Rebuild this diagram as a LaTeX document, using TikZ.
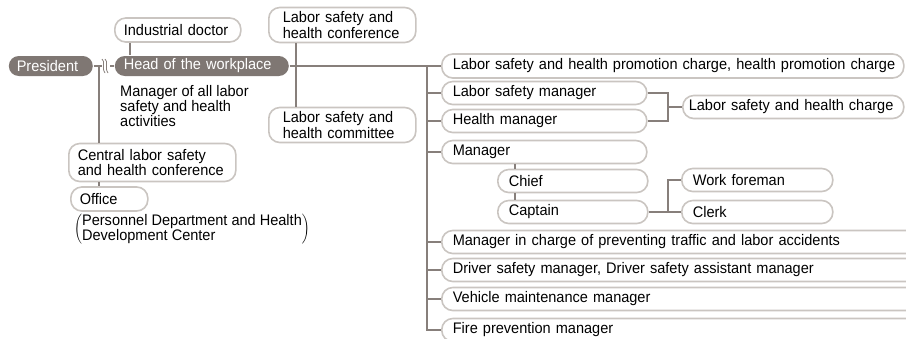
\documentclass[tikz,border=0pt]{standalone}
\usepackage{fontspec}
\setmainfont{Liberation Sans}[FakeStretch=0.95]
\usetikzlibrary{positioning, calc}
\definecolor{darkbox}{HTML}{7F7773}
\definecolor{boxline}{HTML}{CAC5C1}
\definecolor{linkgray}{HTML}{877F7B}
\newcommand{\orgfont}{\fontsize{15.3}{13.3}\selectfont}

\begin{document}
\begin{tikzpicture}[
    x=1pt, y=-1pt,
    box/.style={draw=boxline, line width=1.6pt, rounded corners=11pt, fill=white, minimum height=23pt, inner xsep=11pt, inner ysep=0pt, anchor=west, align=left, font=\orgfont},
    tallbox/.style={box, minimum height=35pt, inner xsep=14pt},
    dark/.style={box, draw=none, fill=darkbox, text=white, minimum height=20pt, rounded corners=10pt},
    conn/.style={draw=linkgray, line width=1.6pt}
]
    \clip (0,0) rectangle (906,338);
    \fill[white] (0,0) rectangle (906,338);

    % Nodes (left side)
    \node[dark, inner xsep=8pt, text width=68pt] (pres) at (8,66) {President};
    \node[dark, inner xsep=9pt, text width=156pt] (head) at (114,66) {Head of the workplace};
    \node[box, minimum height=24pt, inner xsep=9pt, text width=108pt] (idoc) at (114,30) {Industrial doctor};
    \node[font=\orgfont, align=left, anchor=north west, inner sep=0pt] (duty) at (120,85) {Manager of all labor\\safety and health\\activities};
    \node[tallbox, text width=119pt] (lshconf) at (268,25) {Labor safety and\\health conference};
    \node[tallbox, text width=119pt] (lshcom) at (268,125) {Labor safety and\\health committee};
    \node[box, minimum height=38pt, inner xsep=9pt, text width=149pt] (central) at (68,162.5) {Central labor safety\\and health conference};
    \node[box, minimum height=24pt, inner xsep=9pt, text width=59pt] (office) at (70,199) {Office};
    \node[font=\orgfont, anchor=west, inner sep=0pt] (ofnote) at (74,229) {$\left(\vcenter{\hbox{\begin{tabular}{@{}l@{}}Personnel Department and Health\\Development Center\end{tabular}}}\right)$};

    % Nodes (right side)
    \node[box, minimum height=24pt, text width=440pt] (lshp) at (441,66) {\mbox{Labor safety and health promotion charge, health promotion charge}};
    \node[box, text width=183pt] (lsm) at (441,93) {Labor safety manager};
    \node[box, text width=183pt] (hm) at (441,121) {Health manager};
    \node[box, inner xsep=6pt, text width=209pt] (lshc) at (682,107) {\mbox{Labor safety and health charge}};
    \node[box, text width=183pt] (mgr) at (441,152) {Manager};
    \node[box, text width=128pt] (chief) at (497,181) {Chief};
    \node[box, text width=128pt] (capt) at (497,212) {Captain};
    \node[box, text width=129pt] (wf) at (681,180) {Work foreman};
    \node[box, text width=129pt] (clerk) at (681,212) {Clerk};
    \node[box, text width=478pt] (mic) at (441,242) {Manager in charge of preventing traffic and labor accidents};
    \node[box, text width=478pt] (dsm) at (441,270) {Driver safety manager, Driver safety assistant manager};
    \node[box, text width=478pt] (vmm) at (441,299) {Vehicle maintenance manager};
    \node[box, text width=478pt] (fire) at (441,330) {Fire prevention manager};

    % Connections
    \draw[conn] (pres) -- (head);
    \fill[white] (102,60) rectangle (110,72);
    \draw[linkgray, line width=0.8pt] (102,59) .. controls (106,62) and (101,67) .. (105,73);
    \draw[linkgray, line width=0.8pt] (105,59) .. controls (109,62) and (104,67) .. (108,73);
    \coordinate (pv) at (99,66);
    \draw[conn] (pv) -- (central.north -| pv);
    \draw[conn] (central.south -| pv) -- (office.north -| pv);
    \coordinate (iv) at (130,0);
    \draw[conn] (idoc.south -| iv) -- (head.north -| iv);
    \coordinate (cv) at (296,0);
    \draw[conn] (lshconf.south -| cv) -- (lshcom.north -| cv);
    \draw[conn] (head) -- (lshp);
    \coordinate (trunk) at (427,66);
    \draw[conn] (trunk) |- (fire.west);
    \foreach \n in {lsm,hm,mgr,mic,dsm,vmm}
        \draw[conn] (trunk |- \n.west) -- (\n.west);
    \coordinate (mv) at (515,0);
    \draw[conn] (mgr.south -| mv) -- (chief.north -| mv);
    \draw[conn] (chief.south -| mv) -- (capt.north -| mv);
    \coordinate (fk1) at (668,107);
    \draw[conn] (lsm.east) -| (fk1) |- (hm.east);
    \draw[conn] (fk1) -- (lshc.west);
    \coordinate (fk2) at (668,212);
    \draw[conn] (capt.east) -- (clerk.west);
    \draw[conn] (fk2) |- (wf.west);
\end{tikzpicture}
\end{document}
